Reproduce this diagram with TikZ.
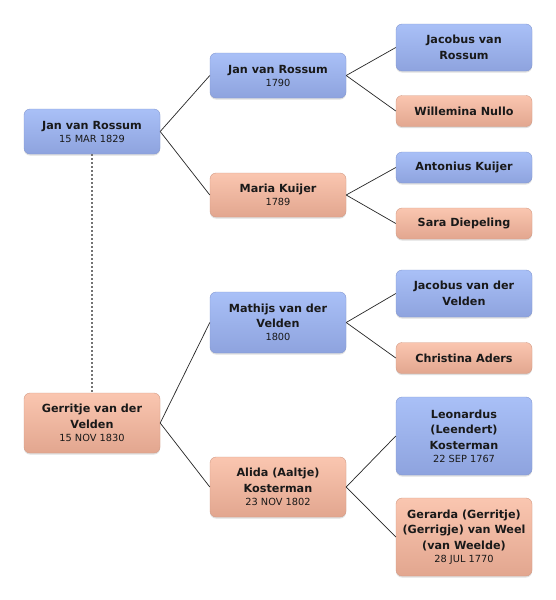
\documentclass[tikz,border=0pt]{standalone}
\usepackage{fontspec}
\setmainfont{DejaVu Sans}
\usetikzlibrary{shadows}
\definecolor{btop}{HTML}{A9C0F7}
\definecolor{bbot}{HTML}{8EA3DE}
\definecolor{stop}{HTML}{FAC6B0}
\definecolor{sbot}{HTML}{E2A68F}
\tikzset{
  person/.style={rounded corners=6pt, minimum width=136pt, inner sep=2pt, align=center,
    text=black!90, font=\bfseries\fontsize{11.2}{15.5}\selectfont,
    drop shadow={opacity=0.25, shadow xshift=0pt, shadow yshift=-1.5pt}},
  male/.style={person, top color=btop, bottom color=bbot, draw=bbot!80!black!30!bbot},
  female/.style={person, top color=stop, bottom color=sbot, draw=sbot!80!black!30!sbot},
  conn/.style={draw=black!85, line width=0.7pt},
}
\newcommand{\dt}[1]{\\[-2.5pt]{\mdseries\fontsize{9.8}{11}\selectfont #1}}
\begin{document}
\begin{tikzpicture}[x=1pt,y=-1pt]
\useasboundingbox (0,0) rectangle (556,600);
\fill[white] (0,0) rectangle (556,600);
% column 1
\node[male, minimum height=45pt] (a) at (92,131.5) {Jan van Rossum\dt{15 MAR 1829}};
\node[female, minimum height=60pt] (b) at (92,423) {Gerritje van der\\Velden\dt{15 NOV 1830}};
% column 2
\node[male, minimum height=45pt] (c) at (278,75.5) {Jan van Rossum\dt{1790}};
\node[female, minimum height=44pt] (d) at (278,195) {Maria Kuijer\dt{1789}};
\node[male, minimum height=61pt] (e) at (278,322.5) {Mathijs van der\\Velden\dt{1800}};
\node[female, minimum height=60pt] (f) at (278,487) {Alida (Aaltje)\\Kosterman\dt{23 NOV 1802}};
% column 3
\node[male, minimum height=47pt] (g) at (464,47.5) {Jacobus van\\Rossum};
\node[female, minimum height=31pt] (h) at (464,111) {Willemina Nullo};
\node[male, minimum height=31pt] (i) at (464,167.5) {Antonius Kuijer};
\node[female, minimum height=31pt] (j) at (464,223.5) {Sara Diepeling};
\node[male, minimum height=47pt] (k) at (464,293.5) {Jacobus van der\\Velden};
\node[female, minimum height=31pt] (l) at (464,358) {Christina Aders};
\node[male, minimum height=78pt] (m) at (464,436) {Leonardus\\(Leendert)\\Kosterman\dt{22 SEP 1767}};
\node[female, minimum height=78pt] (n) at (464,537) {Gerarda (Gerritje)\\(Gerrigje) van Weel\\(van Weelde)\dt{28 JUL 1770}};
% connectors
\draw[black!55, line width=1.5pt, dash pattern=on 2pt off 2pt] (a.south) -- (b.north);
\draw[conn] (a.east) -- (c.west);
\draw[conn] (a.east) -- (d.west);
\draw[conn] (b.east) -- (e.west);
\draw[conn] (b.east) -- (f.west);
\draw[conn] (c.east) -- (g.west);
\draw[conn] (c.east) -- (h.west);
\draw[conn] (d.east) -- (i.west);
\draw[conn] (d.east) -- (j.west);
\draw[conn] (e.east) -- (k.west);
\draw[conn] (e.east) -- (l.west);
\draw[conn] (f.east) -- (m.west);
\draw[conn] (f.east) -- (n.west);
\end{tikzpicture}
\end{document}
